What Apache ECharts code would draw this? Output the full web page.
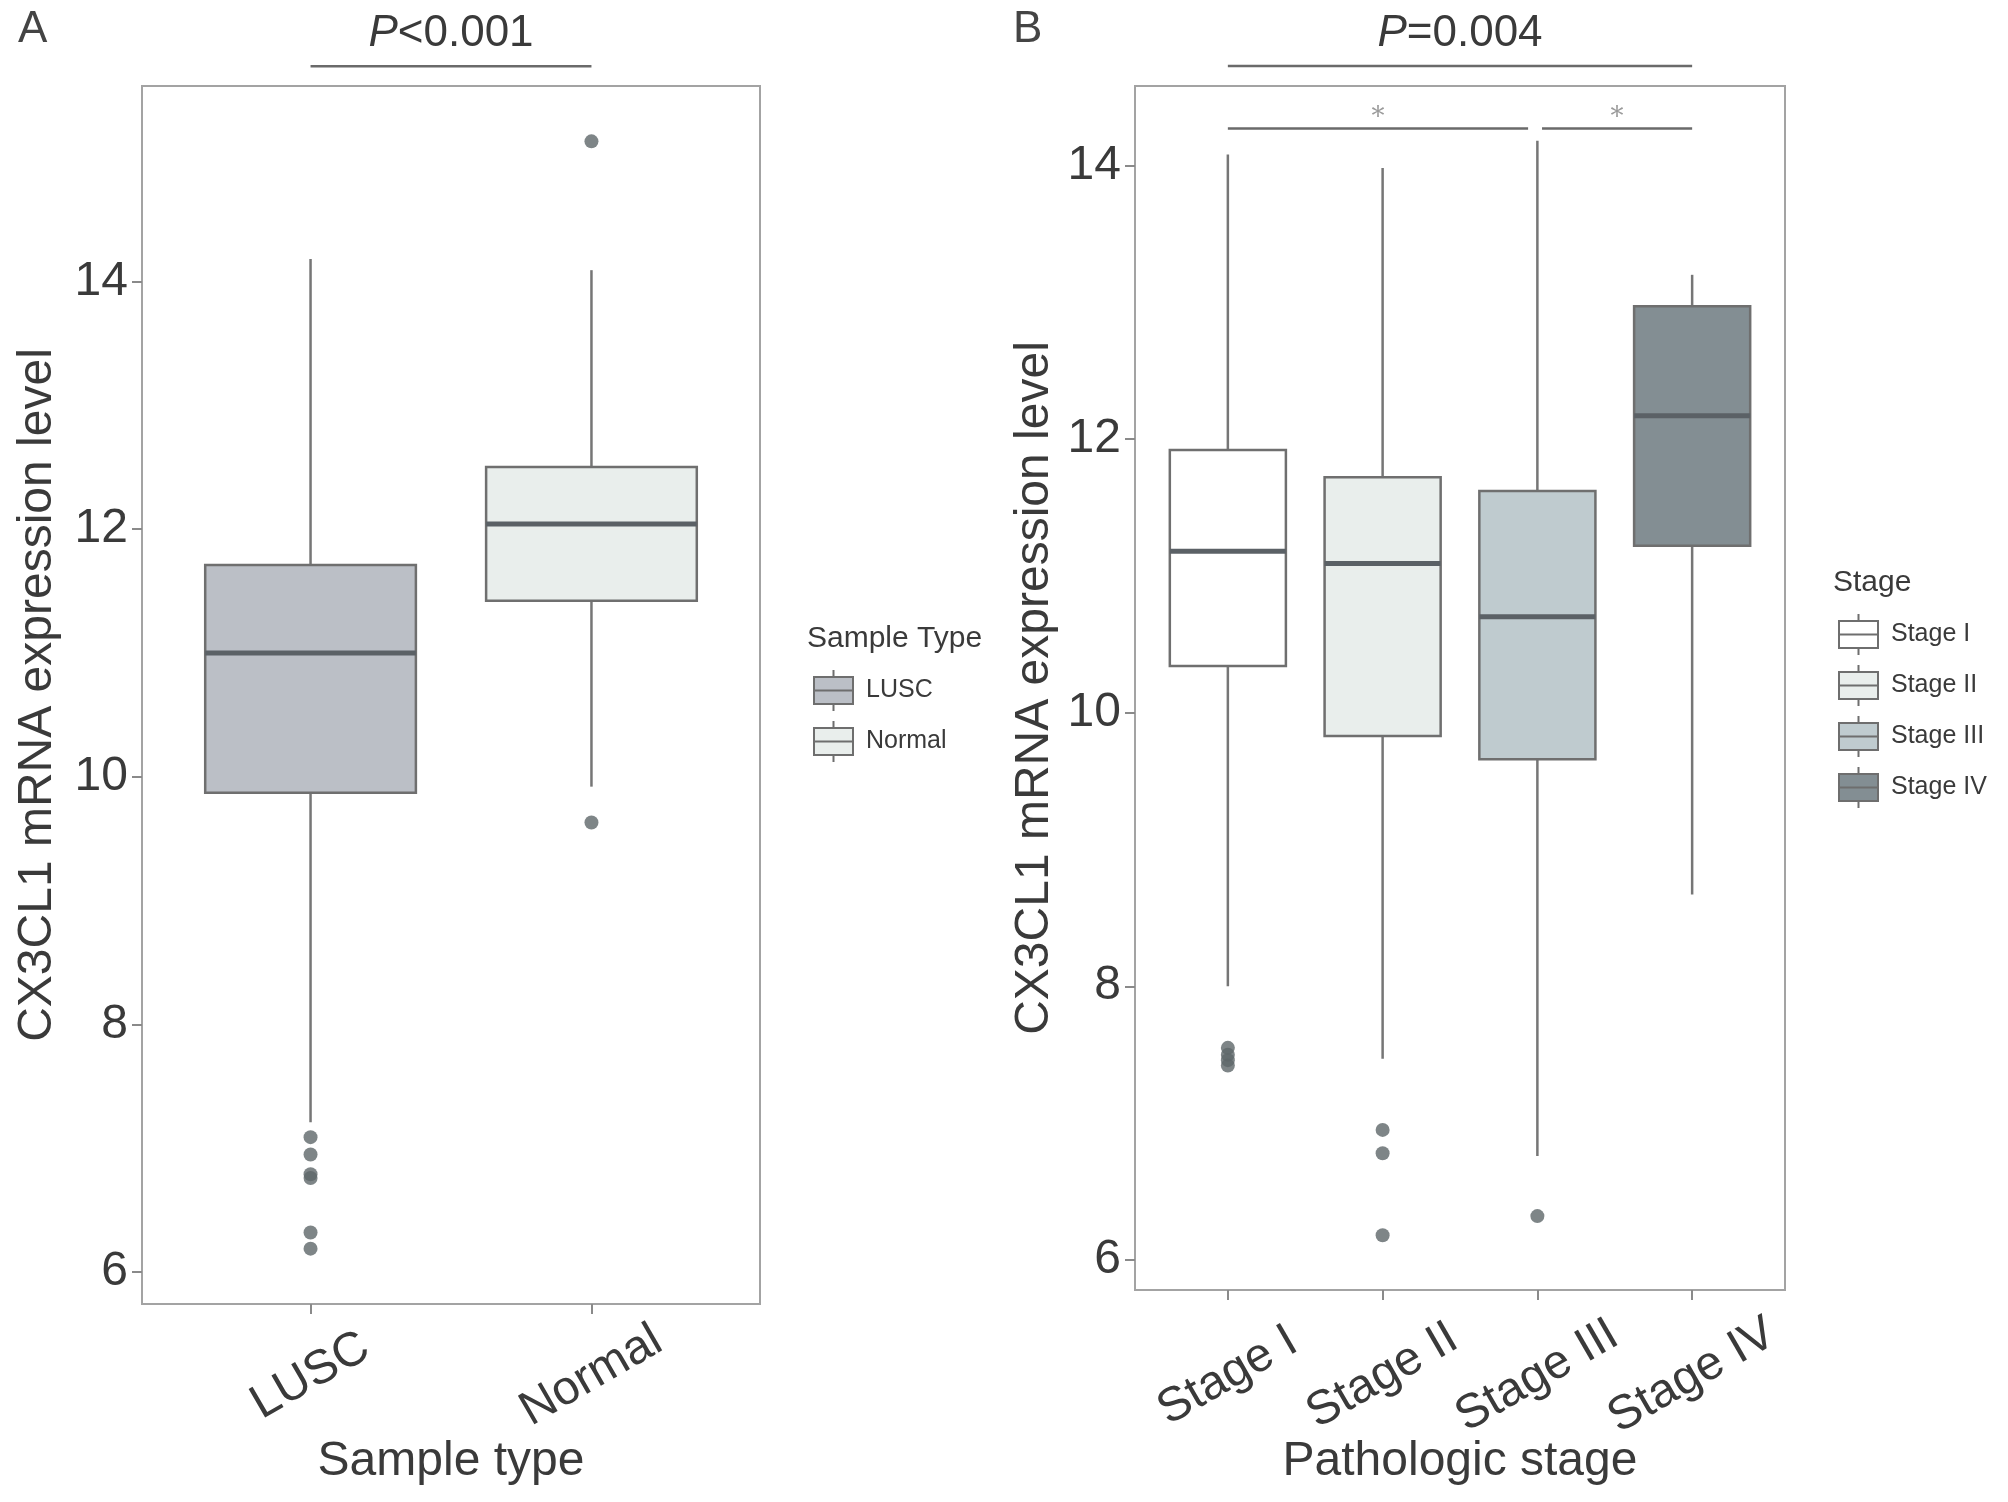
<!DOCTYPE html>
<html><head><meta charset="utf-8">
<script src="https://cdn.jsdelivr.net/npm/echarts@6/dist/echarts.min.js"></script>
<style>html,body{margin:0;padding:0;background:#fff}#c{width:2008px;height:1502px}</style>
</head><body><div id="c"></div>
<script>
// ---------- data ----------
const sampleCategories = ['LUSC', 'Normal'];
// [lower whisker, Q1, median, Q3, upper whisker]
const sampleBoxes = [
  [7.21, 9.87, 11.00, 11.71, 14.18],
  [9.92, 11.42, 12.04, 12.50, 14.09]
];
const sampleOutliers = [
  [7.09, 6.95, 6.79, 6.76, 6.32, 6.19],
  [15.13, 9.63]
];
const stageCategories = ['Stage I', 'Stage II', 'Stage III', 'Stage IV'];
const stageBoxes = [
  [8.00, 10.34, 11.18, 11.92, 14.08],
  [7.47, 9.83, 11.09, 11.72, 13.98],
  [6.76, 9.66, 10.70, 11.62, 14.18],
  [8.67, 11.22, 12.17, 12.97, 13.20]
];
const stageOutliers = [
  [7.55, 7.50, 7.46, 7.42],
  [6.95, 6.78, 6.18],
  [6.32],
  []
];
const yTickValues = [6, 8, 10, 12, 14];
// significance brackets: [x start, x end, y level]
const sampleBrackets = [[1, 2, 15.737]];
const sampleBracketLabels = ['P<0.001'];
const stageBrackets = [[1, 4, 14.726], [1, 2.94, 14.27], [3.03, 4, 14.27]];
const stageBracketLabels = ['P=0.004', '*', '*'];

const sampleColors = ['#bbbfc6', '#e9eeec'];
const stageColors = ['#ffffff', '#e9eeec', '#bfcbcf', '#838e93'];

// ---------- style ----------
const FONT = "'Liberation Sans', Arial, Helvetica, sans-serif";
const TXT = '#3a3a3a';
const BORDER = '#6f6f6f';
const WHISKER = '#767676';
const MEDIAN = '#5b6166';
const OUT_COLOR = '#5e6669';
const BOX_W = 0.75;
const LEGEND_ICON = 'path://M0,7 L39,7 L39,34 L0,34 Z M0,20.5 L39,20.5 M19.5,0 L19.5,7 M19.5,34 L19.5,41';

function expandRange(boxes, outliers) {
  const all = boxes.flat().concat(outliers.flat());
  const lo = Math.min(...all), hi = Math.max(...all);
  const pad = (hi - lo) * 0.05;
  return [lo - pad, hi + pad];
}
const rangeA = expandRange(sampleBoxes, sampleOutliers);
const rangeB = expandRange(stageBoxes, stageOutliers);

function boxRenderer(fill) {
  return function (params, api) {
    const x = api.value(0);
    const pLo = api.coord([x, api.value(1)]);
    const pQ1 = api.coord([x, api.value(2)]);
    const pMed = api.coord([x, api.value(3)]);
    const pQ3 = api.coord([x, api.value(4)]);
    const pHi = api.coord([x, api.value(5)]);
    const half = api.size([BOX_W, 0])[0] / 2;
    const cx = pMed[0];
    return {
      type: 'group',
      children: [
        { type: 'line', shape: { x1: cx, y1: pHi[1], x2: cx, y2: pQ3[1] }, style: { stroke: WHISKER, lineWidth: 2.5 } },
        { type: 'line', shape: { x1: cx, y1: pQ1[1], x2: cx, y2: pLo[1] }, style: { stroke: WHISKER, lineWidth: 2.5 } },
        { type: 'rect', shape: { x: cx - half, y: pQ3[1], width: 2 * half, height: pQ1[1] - pQ3[1] },
          style: { fill: fill, stroke: BORDER, lineWidth: 2.5 } },
        { type: 'line', shape: { x1: cx - half, y1: pMed[1], x2: cx + half, y2: pMed[1] }, style: { stroke: MEDIAN, lineWidth: 5 } }
      ]
    };
  };
}

function bracketRenderer(labels) {
  return function (params, api) {
    const p1 = api.coord([api.value(0), api.value(2)]);
    const p2 = api.coord([api.value(1), api.value(2)]);
    const label = labels[params.dataIndex];
    const isStar = label === '*';
    const textEl = isStar ? {
      type: 'text',
      style: { text: '*', x: (p1[0] + p2[0]) / 2, y: p1[1] - 10, align: 'center', verticalAlign: 'middle',
        fill: '#9a9a9a', fontSize: 26, fontFamily: "'DejaVu Serif', serif" }
    } : {
      type: 'text',
      style: {
        text: '{i|P}{n|' + label.slice(1) + '}', x: (p1[0] + p2[0]) / 2, y: p1[1] - 32,
        align: 'center', verticalAlign: 'middle',
        rich: {
          i: { fontStyle: 'italic', fontSize: 44, fontFamily: FONT, fill: TXT },
          n: { fontSize: 44, fontFamily: FONT, fill: TXT }
        }
      }
    };
    return {
      type: 'group',
      children: [
        { type: 'line', shape: { x1: p1[0], y1: p1[1], x2: p2[0], y2: p2[1] }, style: { stroke: '#6a6a6a', lineWidth: 2.5 } },
        textEl
      ]
    };
  };
}

function xAxisFor(gridIndex, cats, margin) {
  return {
    type: 'value', gridIndex: gridIndex, min: 0.4, max: cats.length + 0.6,
    axisLine: { show: false },
    splitLine: { show: false },
    axisTick: { show: true, customValues: cats.map((c, i) => i + 1), length: 10, lineStyle: { color: '#8a8a8a', width: 2 } },
    axisLabel: {
      customValues: cats.map((c, i) => i + 1),
      formatter: v => cats[Math.round(v) - 1] || '',
      rotate: 30, align: 'center', verticalAlign: 'middle', margin: margin,
      fontSize: 48, color: TXT, fontFamily: FONT
    }
  };
}
function yAxisFor(gridIndex, range, gap) {
  return {
    type: 'value', gridIndex: gridIndex, min: range[0], max: range[1],
    axisLine: { show: false },
    splitLine: { show: false },
    axisTick: { show: true, customValues: yTickValues, length: 10, lineStyle: { color: '#8a8a8a', width: 2 } },
    axisLabel: { customValues: yTickValues, fontSize: 48, color: TXT, fontFamily: FONT, margin: 14 },
    name: 'CX3CL1 mRNA expression level', nameLocation: 'middle', nameGap: gap, nameMoveOverlap: false,
    nameTextStyle: { fontSize: 48, color: TXT, fontFamily: FONT }
  };
}

const series = [];
sampleCategories.forEach((c, i) => {
  series.push({
    type: 'custom', name: c, xAxisIndex: 0, yAxisIndex: 0,
    itemStyle: { color: sampleColors[i] },
    encode: { x: 0, y: [1, 2, 3, 4, 5] },
    renderItem: boxRenderer(sampleColors[i]),
    data: [[i + 1].concat(sampleBoxes[i])]
  });
  series.push({
    type: 'scatter', xAxisIndex: 0, yAxisIndex: 0, symbolSize: 14,
    itemStyle: { color: OUT_COLOR }, silent: true,
    data: sampleOutliers[i].map(v => [i + 1, v])
  });
});
stageCategories.forEach((c, i) => {
  series.push({
    type: 'custom', name: c, xAxisIndex: 1, yAxisIndex: 1,
    itemStyle: { color: stageColors[i] },
    encode: { x: 0, y: [1, 2, 3, 4, 5] },
    renderItem: boxRenderer(stageColors[i]),
    data: [[i + 1].concat(stageBoxes[i])]
  });
  series.push({
    type: 'scatter', xAxisIndex: 1, yAxisIndex: 1, symbolSize: 14,
    itemStyle: { color: OUT_COLOR }, silent: true,
    data: stageOutliers[i].map(v => [i + 1, v])
  });
});
series.push({
  type: 'custom', xAxisIndex: 0, yAxisIndex: 0, clip: false, silent: true,
  encode: { x: [0, 1], y: 2 },
  renderItem: bracketRenderer(sampleBracketLabels), data: sampleBrackets
});
series.push({
  type: 'custom', xAxisIndex: 1, yAxisIndex: 1, clip: false, silent: true,
  encode: { x: [0, 1], y: 2 },
  renderItem: bracketRenderer(stageBracketLabels), data: stageBrackets
});

const option = {
  animation: false,
  backgroundColor: '#ffffff',
  textStyle: { fontFamily: FONT },
  title: [
    { text: 'A', left: 18, top: 8, padding: 0, textStyle: { fontSize: 44, fontWeight: 'normal', color: '#444', fontFamily: FONT } },
    { text: 'B', left: 1013, top: 8, padding: 0, textStyle: { fontSize: 44, fontWeight: 'normal', color: '#444', fontFamily: FONT } },
    { text: 'Sample Type', left: 807, top: 624, padding: 0, textStyle: { fontSize: 30, fontWeight: 'normal', color: TXT, fontFamily: FONT } },
    { text: 'Stage', left: 1833, top: 568, padding: 0, textStyle: { fontSize: 30, fontWeight: 'normal', color: TXT, fontFamily: FONT } }
  ],
  legend: [
    {
      data: sampleCategories, orient: 'vertical', left: 813, top: 669, padding: 0,
      itemWidth: 39, itemHeight: 41, itemGap: 8, icon: LEGEND_ICON,
      itemStyle: { borderColor: '#6e6e6e', borderWidth: 2 },
      textStyle: { fontSize: 25, color: TXT, fontFamily: FONT, padding: [0, 0, 0, 8] },
      selectedMode: false
    },
    {
      data: stageCategories, orient: 'vertical', left: 1838, top: 613, padding: 0,
      itemWidth: 39, itemHeight: 41, itemGap: 8, icon: LEGEND_ICON,
      itemStyle: { borderColor: '#6e6e6e', borderWidth: 2 },
      textStyle: { fontSize: 25, color: TXT, fontFamily: FONT, padding: [0, 0, 0, 8] },
      selectedMode: false
    }
  ],
  grid: [
    { left: 142, top: 86, width: 618, height: 1218, show: true, borderColor: '#a3a3a3', borderWidth: 2, backgroundColor: 'transparent' },
    { left: 1135, top: 86, width: 650, height: 1204, show: true, borderColor: '#a3a3a3', borderWidth: 2, backgroundColor: 'transparent' }
  ],
  xAxis: [
    Object.assign(xAxisFor(0, sampleCategories, 72), {
      name: 'Sample type', nameLocation: 'middle', nameGap: 134, nameMoveOverlap: false,
      nameTextStyle: { fontSize: 48, color: TXT, fontFamily: FONT }
    }),
    Object.assign(xAxisFor(1, stageCategories, 86), {
      name: 'Pathologic stage', nameLocation: 'middle', nameGap: 148, nameMoveOverlap: false,
      nameTextStyle: { fontSize: 48, color: TXT, fontFamily: FONT }
    })
  ],
  yAxis: [yAxisFor(0, rangeA, 80), yAxisFor(1, rangeB, 76)],
  series: series
};

const chart = echarts.init(document.getElementById('c'), null, { renderer: 'canvas' });
chart.setOption(option);
</script>
</body></html>
